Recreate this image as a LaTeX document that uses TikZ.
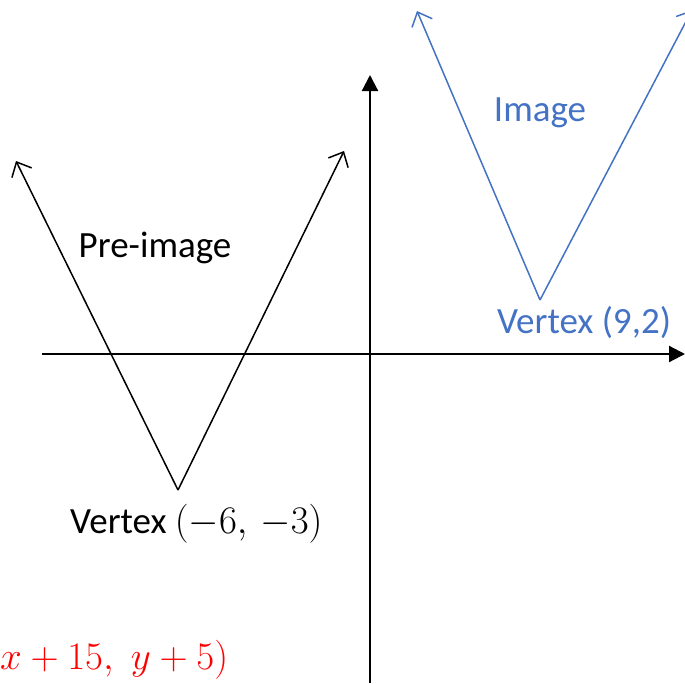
\RequirePackage{fix-cm}
\documentclass[tikz,border=0pt]{standalone}
\usepackage{fontspec}
\setmainfont{Carlito}
\usetikzlibrary{arrows.meta}
\definecolor{imgblue}{HTML}{4472C4}
\definecolor{mapred}{HTML}{FF0000}
\tikzset{
  axis/.style={line width=2.2pt,-{Triangle[length=16pt,width=16pt]}},
  arm/.style={line width=1.5pt,-{Straight Barb[length=12pt,width=22pt,line width=1.5pt]}},
  lbl/.style={font=\fontsize{37}{44}\selectfont, inner sep=0pt},
  mlbl/.style={font=\fontsize{39}{46}\selectfont, inner sep=0pt},
}
\begin{document}
\begin{tikzpicture}[x=1pt,y=-1pt]
\useasboundingbox (0,0) rectangle (685,683);
\clip (0,0) rectangle (685,683);
% axes
\coordinate (xs) at (42,354);
\coordinate (xe) at (685,354);
\coordinate (ys) at (370,683);
\coordinate (ye) at (370,75);
\draw[axis] (xs) -- (xe);
\draw[axis] (ys) -- (ye);
% pre-image
\coordinate (pv) at (178,490);
\coordinate (pl) at (16,161);
\coordinate (pr) at (344,151);
\draw[arm] (pv) -- (pl);
\draw[arm] (pv) -- (pr);
% image
\coordinate (iv) at (540,300);
\coordinate (il) at (417,11);
\coordinate (ir) at (692,10);
\draw[arm,imgblue] (iv) -- (il);
\draw[arm,imgblue] (iv) -- (ir);
% labels
\node[lbl] (pre) at (155,248) {Pre-image};
\node[lbl,text=imgblue] (img) at (540,113) {Image};
\node[lbl,text=imgblue] (vimg) at (584,323) {Vertex (9,2)};
\node[lbl,anchor=west] (vpre) at (70,524) {Vertex {\fontsize{39}{46}\selectfont$(-6,\,-3)$}};
\node[mlbl,text=mapred,anchor=west] (map) at (0,660) {$x+15,\;y+5)$};
\end{tikzpicture}
\end{document}
